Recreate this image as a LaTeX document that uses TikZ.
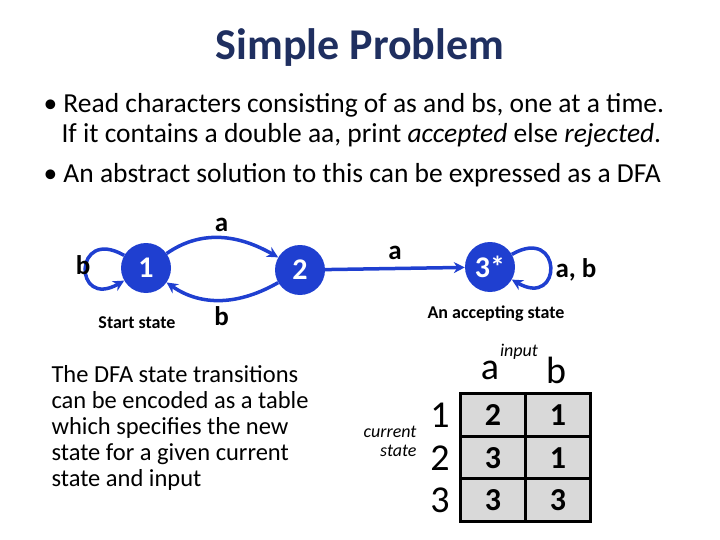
\documentclass[tikz,border=0pt]{standalone}
\usepackage{fontspec}
\setmainfont{Carlito}
\usetikzlibrary{arrows.meta}
\definecolor{navy}{HTML}{1F2F60}
\definecolor{sblue}{HTML}{1F3FD0}
\definecolor{cellgray}{HTML}{D9D9D9}
\begin{document}
\begin{tikzpicture}[x=1pt,y=-1pt,
  st/.style={circle,fill=sblue,minimum size=50pt,inner sep=0pt,text=white,font=\fontsize{30}{34}\selectfont\bfseries},
  tr/.style={draw=sblue,line width=3.5pt,-{Stealth[length=11pt,width=11pt]}},
  lab/.style={font=\fontsize{27}{30}\selectfont\bfseries},
  small/.style={font=\fontsize{18}{22}\selectfont\bfseries},
  txt/.style={font=\fontsize{27.5}{32}\selectfont,anchor=west},
  cell/.style={draw,line width=2.5pt,fill=cellgray,minimum width=65pt,minimum height=43pt,font=\fontsize{32}{36}\selectfont\bfseries},
  big/.style={font=\fontsize{38}{42}\selectfont}]
\useasboundingbox (0,0) rectangle (720,540);
\node[text=navy,font=\fontsize{44}{48}\selectfont\bfseries] (title) at (360,48) {Simple Problem};
\node[txt] (l1) at (40,105) {• Read characters consisting of as and bs, one at a time.};
\node[txt] (l2) at (58,135) {If it contains a double aa, print \textit{accepted} else \textit{rejected}.};
\node[txt] (l3) at (40,175) {• An abstract solution to this can be expressed as a DFA};
\node[st] (s1) at (146,268) {1};
\node[st] (s2) at (300,270) {2};
\node[st] (s3) at (490,267) {3*};
\draw[tr] (s1) to[out=35,in=150] node[lab,above=1pt] (la) {a} (s2);
\draw[tr] (s2) to[out=-150,in=-35] node[lab,below=1pt] (lb) {b} (s1);
\draw[tr] (s2) -- node[lab,above=4pt] (la2) {a} (s3);
\draw[tr] (s1.150) to[out=150,in=-150,looseness=6] (s1.-150);
\draw[tr] (s3.30) to[out=30,in=-30,looseness=6] (s3.-30);
\node[lab,anchor=east] (lbb) at (94,265) {b};
\node[lab,anchor=west] (lab3) at (552,270) {a, b};
\node[small] (start) at (137,323) {Start state};
\node[small] (acc) at (496,314) {An accepting state};
\node[font=\fontsize{24.5}{26}\selectfont,align=left,anchor=north west] (desc) at (48,362) {The DFA state transitions\\can be encoded as a table\\which specifies the new\\state for a given current\\state and input};
\node[cell] (c11) at (493,415) {2};
\node[cell] (c12) at (558,415) {1};
\node[cell] (c21) at (493,458) {3};
\node[cell] (c22) at (558,458) {1};
\node[cell] (c31) at (493,500) {3};
\node[cell] (c32) at (558,500) {3};
\node[big] (ha) at (490,370) {a};
\node[big] (hb) at (556,370) {b};
\node[font=\fontsize{18}{22}\selectfont\itshape] (inp) at (519,352) {input};
\node[big] (r1) at (440,415) {1};
\node[big] (r2) at (440,458) {2};
\node[big] (r3) at (440,500) {3};
\node[font=\fontsize{18}{19}\selectfont\itshape,align=right,anchor=east] (cs) at (420,441) {current\\state};
\end{tikzpicture}
\end{document}
